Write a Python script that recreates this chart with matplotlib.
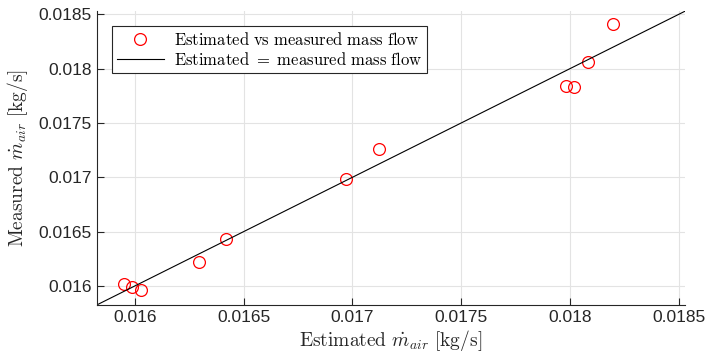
import matplotlib
matplotlib.use("Agg")
import matplotlib.pyplot as plt
import numpy as np

plt.rcParams['mathtext.fontset'] = 'cm'
plt.rcParams['font.family'] = ['Liberation Sans', 'DejaVu Sans']

estimated = [0.015949, 0.015986, 0.016028, 0.016295, 0.016419, 0.016972,
             0.017124, 0.017982, 0.018018, 0.018083, 0.018198]
measured = [0.016018, 0.015991, 0.015963, 0.016221, 0.016432, 0.016982,
            0.017257, 0.017844, 0.017835, 0.018064, 0.018414]
x_ticks = [0.016, 0.0165, 0.017, 0.0175, 0.018, 0.0185]
x_tick_labels = ['0.016', '0.0165', '0.017', '0.0175', '0.018', '0.0185']
y_ticks = [0.016, 0.0165, 0.017, 0.0175, 0.018, 0.0185]
y_tick_labels = ['0.016', '0.0165', '0.017', '0.0175', '0.018', '0.0185']
lims = [0.015825, 0.01853]

fig = plt.figure(figsize=(7.07, 3.6), dpi=100)
ax = fig.add_axes([0.137, 0.153, 0.832, 0.816])

ax.plot(estimated, measured, 'o', mfc='none', mec='#ff0000', ms=8.5, mew=0.9,
        label=r'$\mathrm{Estimated\ vs\ measured\ mass\ flow}$')
ax.plot(lims, lims, '-', color='black', lw=0.8,
        label=r'$\mathrm{Estimated}\ \mathrm{=}\ \mathrm{measured\ mass\ flow}$')

ax.set_xlim(lims)
ax.set_ylim(lims)
ax.set_xticks(x_ticks)
ax.set_xticklabels(x_tick_labels)
ax.set_yticks(y_ticks)
ax.set_yticklabels(y_tick_labels)
ax.tick_params(direction='in', labelsize=12.5, colors='#262626', length=5, width=0.8)
ax.grid(True, color='#e3e3e3', lw=0.8)
ax.set_axisbelow(True)
for s in ['top', 'right']:
    ax.spines[s].set_visible(False)
for s in ['left', 'bottom']:
    ax.spines[s].set_color('#262626')
    ax.spines[s].set_linewidth(0.8)

ax.set_xlabel(r'$\mathrm{Estimated}\ \dot{m}_{air}\ [\mathrm{kg/s}]$', fontsize=14, color='#262626', labelpad=2)
ax.set_ylabel(r'$\mathrm{Measured}\ \dot{m}_{air}\ [\mathrm{kg/s}]$', fontsize=14, color='#262626', labelpad=6)

leg = ax.legend(loc='upper left', fontsize=12, fancybox=False, edgecolor='#262626',
                framealpha=1, borderaxespad=0.9, handlelength=2.8, borderpad=0.3,
                labelspacing=0.15, handletextpad=0.6)
leg.get_frame().set_linewidth(0.8)

fig.savefig('out.png', dpi=100)
